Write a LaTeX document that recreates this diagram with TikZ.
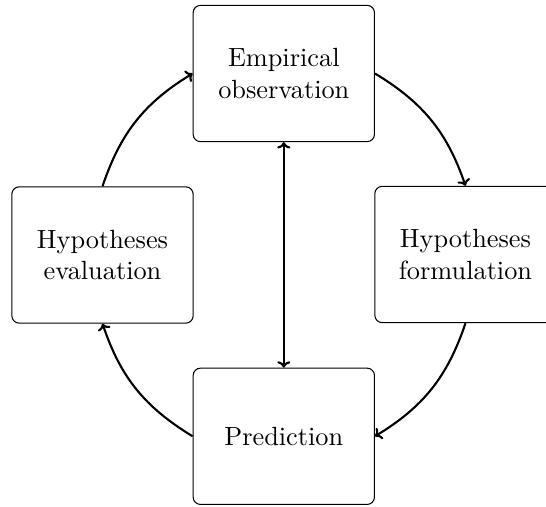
\documentclass[tikz,border=0pt]{standalone}
\usetikzlibrary{arrows.meta}
\begin{document}
\begin{tikzpicture}[x=0.38pt,y=-0.38pt,
  stagebox/.style={draw, rounded corners=2.8pt, minimum width=68.9pt, minimum height=51.8pt, inner sep=0pt, align=center, font=\normalsize},
  flow/.style={thick, -{To[length=2.4pt,width=5pt]}},
  flowboth/.style={thick, {To[length=2.4pt,width=5pt]}-{To[length=2.4pt,width=5pt]}}]
\useasboundingbox (0,0) rectangle (546,507);
\node[stagebox] (obs) at (283.8,73.5) {Empirical\\observation};
\node[stagebox] (eval) at (102.5,255) {Hypotheses\\evaluation};
\node[stagebox] (form) at (465.5,254.5) {Hypotheses\\formulation};
\node[stagebox] (pred) at (283.8,436.3) {Prediction};
\draw[flow] (obs.east) to[bend left=20] (form.north);
\draw[flow] (form.south) to[bend left=20] (pred.east);
\draw[flow] (pred.west) to[bend left=20] (eval.south);
\draw[flow] (eval.north) to[bend left=20] (obs.west);
\draw[flowboth] (obs.south) -- (pred.north);
\end{tikzpicture}
\end{document}
